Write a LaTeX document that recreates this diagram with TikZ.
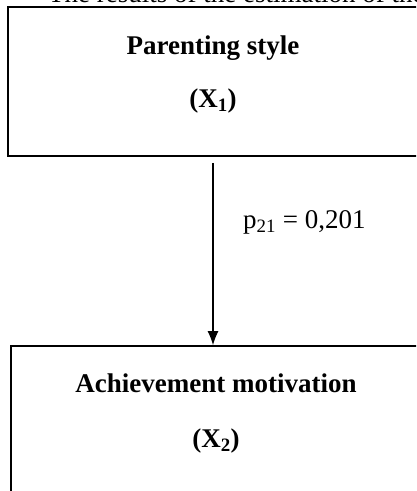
\documentclass[tikz,border=0pt]{standalone}
\usepackage{fontspec}
\setmainfont{Liberation Serif}
\usepackage{tikz}
\usetikzlibrary{arrows.meta,positioning}
\tikzset{
	varbox/.style={draw,line width=1.6pt,minimum width=412pt,minimum height=149pt,inner sep=0pt},
	varname/.style={font=\fontsize{27}{32}\selectfont\bfseries,inner sep=0pt},
	coef/.style={font=\fontsize{27}{32}\selectfont,inner sep=0pt},
	path/.style={line width=1.3pt,-{Latex[length=14pt,width=11pt]}}
}

\begin{document}
\begin{tikzpicture}[x=1pt,y=-1pt]
	\useasboundingbox (0,0) rectangle (416,491);
	\clip (0,0) rectangle (416,491);
	\node[coef,anchor=base west] (caption) at (48,2.5) {The results of the estimation of the};
	\node[varbox] (style) at (214,81.5) {};
	\node[varname] (stylename) at (213,48) {Parenting style};
	\node[varname] (stylevar) at (213,101) {(X\textsubscript{1})};
	\node[varbox] (motiv) at (217,420.5) {};
	\node[varname] (motivname) at (216,383) {Achievement motivation};
	\node[varname] (motivvar) at (216,441) {(X\textsubscript{2})};
	\draw[path] ([yshift=-6pt]style.south -| stylename.south) -- (stylename.south |- motiv.north);
	\node[coef,anchor=west] (p21) at (243,222) {p\textsubscript{21} = 0,201};
\end{tikzpicture}
\end{document}
